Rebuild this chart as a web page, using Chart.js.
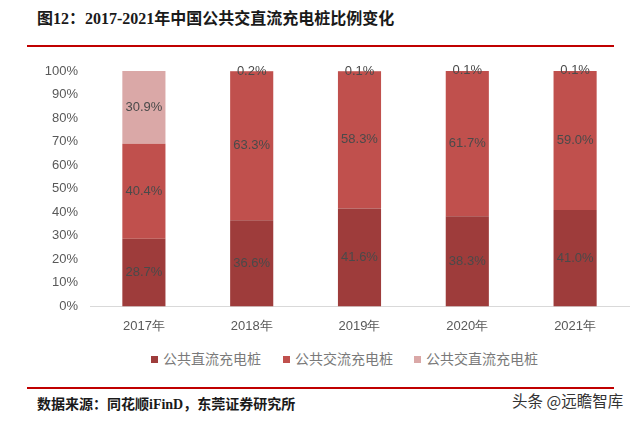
<!DOCTYPE html>
<html>
<head>
<meta charset="utf-8">
<script src="https://cdn.jsdelivr.net/npm/chart.js@4"></script>
<style>
  body { margin: 0; background: #fff; width: 640px; height: 423px; position: relative; overflow: hidden;
         font-family: "Noto Sans CJK SC", "Noto Sans", sans-serif; }
  .title { position: absolute; left: 37px; top: 8px; font-size: 16px; font-weight: bold; color: #1a1a1a;
           font-family: "Liberation Serif", "Noto Sans CJK SC", serif; line-height: 22px; }
  .rule { position: absolute; left: 27px; width: 587px; height: 2px; background: #C00000; }
  .source { position: absolute; left: 37px; top: 395px; font-size: 14px; font-weight: bold; color: #1a1a1a;
            font-family: "Liberation Serif", "Noto Sans CJK SC", serif; line-height: 20px; }
  .mark { position: absolute; left: 512px; top: 390px; font-size: 15.5px; color: #333; line-height: 20px; }
  #wrap { position: absolute; left: 0; top: 50px; width: 640px; height: 288px; }
  #legend { position: absolute; top: 348px; left: 0; width: 640px; height: 20px; }
  #legend span.item { position: absolute; top: 0; font-size: 14px; line-height: 20px; color: #7a7a7a; }
  #legend span.box { display: inline-block; width: 7px; height: 7px; margin-right: 5px; vertical-align: 1px; }
</style>
</head>
<body>
<div class="title">图12：2017-2021年中国公共交直流充电桩比例变化</div>
<div class="rule" style="top:45px"></div>
<div id="wrap"><canvas id="chart"></canvas></div>
<div id="legend"></div>
<div class="rule" style="top:387px"></div>
<div class="source">数据来源：同花顺iFinD，东莞证券研究所</div>
<div class="mark">头条 @远瞻智库</div>
<script>
const years = ['2017年', '2018年', '2019年', '2020年', '2021年'];
const dcShare = [28.7, 36.6, 41.6, 38.3, 41.0];
const acShare = [40.4, 63.3, 58.3, 61.7, 59.0];
const acdcShare = [30.9, 0.2, 0.1, 0.1, 0.1];
const seriesNames = ['公共直流充电桩', '公共交流充电桩', '公共交直流充电桩'];
const seriesColors = ['#9E3C3B', '#C0504D', '#DAA8A7'];

// draw value labels in the middle of each segment
const segmentLabels = {
    id: 'segmentLabels',
    afterDatasetsDraw(chart) {
        const ctx = chart.ctx;
        ctx.save();
        ctx.font = '13px "Liberation Sans", sans-serif';
        ctx.fillStyle = '#4a4a4a';
        ctx.textAlign = 'center';
        ctx.textBaseline = 'middle';
        chart.data.datasets.forEach((ds, i) => {
            chart.getDatasetMeta(i).data.forEach((bar, j) => {
                const y = (bar.y + bar.base) / 2;
                ctx.fillText(ds.data[j].toFixed(1) + '%', bar.x, y);
            });
        });
        ctx.restore();
    }
};

const chart = new Chart(document.getElementById('chart'), {
    type: 'bar',
    data: {
        labels: years,
        datasets: seriesNames.map((name, i) => ({
            label: name,
            data: [dcShare, acShare, acdcShare][i],
            backgroundColor: seriesColors[i]
        }))
    },
    options: {
        responsive: true,
        maintainAspectRatio: false,
        animation: false,
        layout: { padding: { top: 21, right: 11, left: 0, bottom: 0 } },
        datasets: { bar: { categoryPercentage: 1, barPercentage: 0.4 } },
        scales: {
            x: {
                stacked: true,
                grid: { display: false },
                border: { color: '#D9D9D9' },
                ticks: { color: '#595959', font: { size: 13 }, padding: 4 }
            },
            y: {
                stacked: true,
                min: 0,
                max: 100,
                afterFit: s => { s.width = 90; },
                grid: { display: false },
                border: { display: false },
                ticks: {
                    stepSize: 10,
                    color: '#595959',
                    font: { size: 13 },
                    padding: 4,
                    callback: v => v + '%'
                }
            }
        },
        plugins: {
            legend: { display: false },
            tooltip: { enabled: false }
        }
    },
    plugins: [segmentLabels]
});

// legend below the chart
const legendLeft = [151, 283, 414];
const legend = document.getElementById('legend');
seriesNames.forEach((name, i) => {
    const item = document.createElement('span');
    item.className = 'item';
    item.style.left = legendLeft[i] + 'px';
    item.innerHTML = '<span class="box" style="background:' + seriesColors[i] + '"></span>' + name;
    legend.appendChild(item);
});
</script>
</body>
</html>
